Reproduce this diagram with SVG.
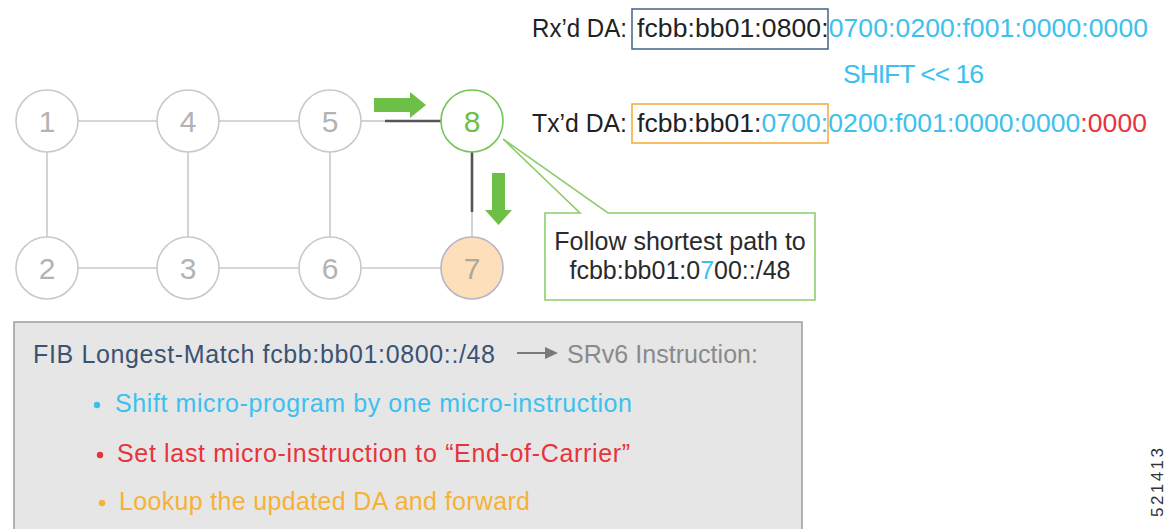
<svg xmlns="http://www.w3.org/2000/svg" width="1167" height="529" viewBox="0 0 1167 529">
<style>
text{font-family:"Liberation Sans",Arial,sans-serif}
.node circle{fill:#fff;stroke:#c9c9c9;stroke-width:1.6}
.node text{font-size:30px;fill:#b3b3b3;text-anchor:middle}
.link{stroke:#c9c9c9;stroke-width:1.6;fill:none}
.dark{stroke:#555;stroke-width:2.6;fill:none}
.arrow{fill:#6dbf45}
.big{font-size:26.5px;fill:#222}
.blue{fill:#3cc1ee}
.red{fill:#e8333a}
.orange{fill:#f7b136}
</style>
<rect width="1167" height="529" fill="#fff"/>
<g id="connectors">
<line class="link" x1="78" y1="121" x2="157" y2="121"/>
<line class="link" x1="219" y1="121" x2="299" y2="121"/>
<line class="link" x1="361" y1="121" x2="385" y2="121"/>
<line class="dark" x1="385" y1="121" x2="441" y2="121"/>
<line class="link" x1="78" y1="268" x2="157" y2="268"/>
<line class="link" x1="219" y1="268" x2="299" y2="268"/>
<line class="link" x1="361" y1="268" x2="441" y2="268"/>
<line class="link" x1="47" y1="152" x2="47" y2="237"/>
<line class="link" x1="188" y1="152" x2="188" y2="237"/>
<line class="link" x1="330" y1="152" x2="330" y2="237"/>
<line class="dark" x1="472" y1="152" x2="472" y2="212"/>
<line class="link" x1="472" y1="212" x2="472" y2="237"/>
<path class="arrow" d="M374,98 H410 V92 L426,105 L410,118 V112 H374 Z"/>
<path class="arrow" d="M492,173 H505 V210 H512 L498.5,225 L485,210 H492 Z"/>
</g>
<g id="node1" class="node"><circle cx="47" cy="121" r="31"/><text x="47" y="132">1</text></g>
<g id="node4" class="node"><circle cx="188" cy="121" r="31"/><text x="188" y="132">4</text></g>
<g id="node5" class="node"><circle cx="330" cy="121" r="31"/><text x="330" y="132">5</text></g>
<g id="node8" class="node"><circle cx="472" cy="121" r="31" style="stroke:#74c457"/><text x="472" y="132" style="fill:#6dbf45">8</text></g>
<g id="node2" class="node"><circle cx="47" cy="268" r="31"/><text x="47" y="279">2</text></g>
<g id="node3" class="node"><circle cx="188" cy="268" r="31"/><text x="188" y="279">3</text></g>
<g id="node6" class="node"><circle cx="330" cy="268" r="31"/><text x="330" y="279">6</text></g>
<g id="node7" class="node"><circle cx="472" cy="268" r="31" style="fill:#fde0b9;stroke:#b7b4c9"/><text x="472" y="279" style="fill:#b0a89c">7</text></g>
<g id="callout">
<path d="M545,213 H580 L503,139 L608,213 H815 V300 H545 Z" fill="#fff" stroke="#8dcd6c" stroke-width="1.6" stroke-linejoin="miter"/>
<text x="680" y="250" text-anchor="middle" style="font-size:25px;fill:#2a2a2a">Follow shortest path to</text>
<text x="680" y="279" text-anchor="middle" style="font-size:25px;fill:#2a2a2a">fcbb:bb01:0<tspan class="blue">7</tspan>00::/48</text>
</g>
<g id="addresses">
<rect x="632" y="9" width="196" height="40" fill="none" stroke="#4d6d8c" stroke-width="1.6"/>
<text class="big" x="532" y="37" textLength="95" lengthAdjust="spacingAndGlyphs">Rx’d DA:</text>
<text class="big" x="637" y="37" textLength="511">fcbb:bb01:0800:<tspan class="blue">0700:0200:f001:0000:0000</tspan></text>
<text class="big blue" x="843" y="83" textLength="141">SHIFT &lt;&lt; 16</text>
<rect x="632" y="104" width="196" height="39" fill="none" stroke="#f6ae40" stroke-width="1.6"/>
<text class="big" x="532" y="132" textLength="95" lengthAdjust="spacingAndGlyphs">Tx’d DA:</text>
<text class="big" x="637" y="132" textLength="510">fcbb:bb01:<tspan class="blue">0700:0200:f001:0000:0000</tspan><tspan class="red">:0000</tspan></text>
</g>
<g id="fib">
<rect x="14" y="322" width="788" height="220" fill="#e6e6e7" stroke="#a3a3a3" stroke-width="1.6"/>
<text x="33" y="363" textLength="462" style="font-size:25px;fill:#3b5372">FIB Longest-Match fcbb:bb01:0800::/48</text>
<line x1="517" y1="353" x2="548" y2="353" stroke="#7a7a7a" stroke-width="2"/>
<path d="M545,347 L558,353 L545,359 Z" fill="#7a7a7a"/>
<text x="567" y="363" textLength="191" style="font-size:25px;fill:#8a8a8a">SRv6 Instruction:</text>
<circle cx="97" cy="405" r="3.2" class="blue"/>
<text x="115" y="412" textLength="517" class="blue" style="font-size:25px">Shift micro-program by one micro-instruction</text>
<circle cx="100" cy="455" r="3.2" class="red"/>
<text x="117" y="462" textLength="513" class="red" style="font-size:25px">Set last micro-instruction to “End-of-Carrier”</text>
<circle cx="102" cy="503" r="3.2" class="orange"/>
<text x="119" y="510" textLength="411" class="orange" style="font-size:25px">Lookup the updated DA and forward</text>
</g>
<text transform="translate(1163,517) rotate(-90)" x="0" y="0" textLength="69" style="font-size:17px;fill:#333">521413</text>
</svg>
